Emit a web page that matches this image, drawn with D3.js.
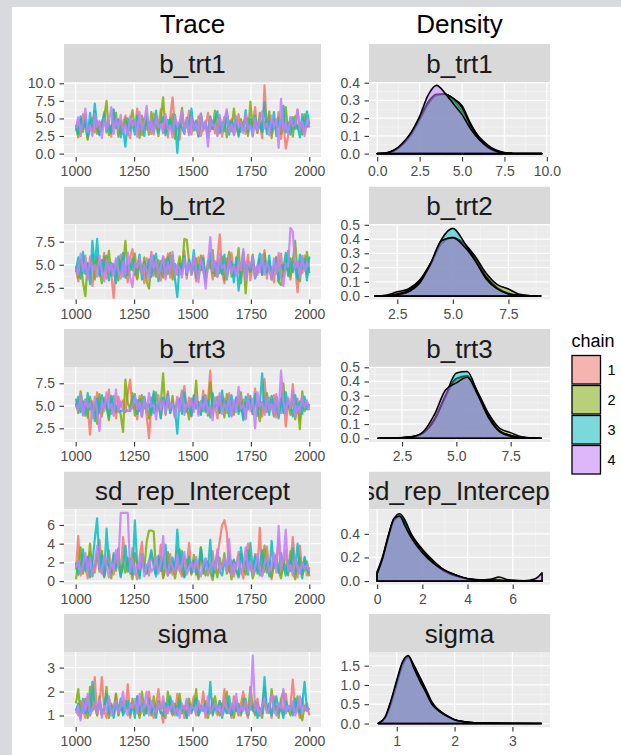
<!DOCTYPE html>
<html><head><meta charset="utf-8">
<script src="https://cdn.jsdelivr.net/npm/d3@7"></script>
<style>html,body{margin:0;padding:0;background:#fff;}svg{display:block;}</style>
</head><body><svg id="c" width="621" height="755"></svg>
<script>
// ---------------- DATA ----------------
const params = ["b_trt1", "b_trt2", "b_trt3", "sd_rep_Intercept", "sigma"];
const chains = ["1", "2", "3", "4"];
const chainColors = ["#F8766D", "#7CAE00", "#00BFC4", "#C77CFF"];
const iterFirst = 1001, iterLast = 2000;

const traceXTicks = [1000, 1250, 1500, 1750, 2000];
const traceXTickLabels = ["1000", "1250", "1500", "1750", "2000"];
const traceYTicks = [[0, 2.5, 5, 7.5, 10], [2.5, 5, 7.5], [2.5, 5, 7.5], [0, 2, 4, 6], [1, 2, 3]];
const traceYTickLabels = [["0.0", "2.5", "5.0", "7.5", "10.0"], ["2.5", "5.0", "7.5"], ["2.5", "5.0", "7.5"], ["0", "2", "4", "6"], ["1", "2", "3"]];
const densXTicks = [[0, 2.5, 5, 7.5, 10], [2.5, 5, 7.5], [2.5, 5, 7.5], [0, 2, 4, 6], [1, 2, 3]];
const densXTickLabels = [["0.0", "2.5", "5.0", "7.5", "10.0"], ["2.5", "5.0", "7.5"], ["2.5", "5.0", "7.5"], ["0", "2", "4", "6"], ["1", "2", "3"]];
const densYTicks = [[0, 0.1, 0.2, 0.3, 0.4], [0, 0.1, 0.2, 0.3, 0.4, 0.5], [0, 0.1, 0.2, 0.3, 0.4, 0.5], [0, 0.2, 0.4], [0, 0.5, 1, 1.5]];
const densYTickLabels = [["0.0", "0.1", "0.2", "0.3", "0.4"], ["0.0", "0.1", "0.2", "0.3", "0.4", "0.5"], ["0.0", "0.1", "0.2", "0.3", "0.4", "0.5"], ["0.0", "0.2", "0.4"], ["0.0", "0.5", "1.0", "1.5"]];

// value ranges of each parameter (shared by trace y and density x), and density y ranges
const valueDomains = [[-0.485, 10.185], [1.23, 9.37], [0.98, 9.31], [-0.36, 7.65], [0.52, 3.65]];
const densDomains = [[-0.019, 0.404], [-0.024, 0.502], [-0.026, 0.502], [-0.029, 0.606], [-0.09, 1.854]];

// trace draws (every ~10th iteration), one array per chain
const trace_b_trt1 = [
[3.2,4.8,2.5,5.6,3.9,2.1,4.4,5.1,3.0,4.6,2.7,3.8,5.9,3.3,4.1,2.4,6.2,3.6,4.9,2.9,4.3,5.4,3.1,2.2,4.7,3.5,6.4,3.9,2.6,5.0,3.4,4.5,2.8,5.7,3.7,4.2,6.3,3.0,4.8,2.3,5.2,8.0,3.6,4.4,2.0,5.5,3.8,4.0,6.1,2.7,4.6,3.3,5.3,2.5,4.1,3.9,5.8,3.2,4.7,2.9,3.6,5.1,2.4,4.3,6.0,3.4,4.9,2.6,3.7,5.6,3.1,4.5,2.8,5.0,3.9,4.2,6.6,3.0,4.4,2.2,9.7,3.5,5.4,2.7,4.0,3.3,5.9,2.1,4.6,0.7,2.5,5.2,3.6,4.1,6.3,3.2,4.8,2.9,4.3,3.7],
[3.8,2.3,4.9,3.1,5.5,2.0,4.2,3.6,6.0,2.8,4.5,3.3,5.2,7.5,2.6,4.0,3.7,5.8,2.4,4.6,3.2,5.0,2.9,4.4,6.2,3.5,4.1,2.2,5.4,3.9,4.7,2.7,5.9,3.4,4.3,2.5,5.1,8.0,3.0,4.8,3.6,5.6,2.1,4.2,3.8,6.5,3.1,4.5,2.8,5.3,3.7,4.0,2.4,5.7,3.3,4.6,2.9,5.0,3.5,6.1,2.6,4.4,3.9,5.2,2.3,4.7,3.2,6.4,3.8,2.7,4.9,3.4,5.5,2.5,7.4,3.6,4.1,2.9,5.8,3.0,4.5,3.3,6.0,2.2,4.8,3.7,5.1,2.8,4.2,6.6,3.1,4.6,2.4,5.3,3.5,4.0,2.7,5.6,3.8,4.3],
[4.1,2.8,5.3,3.5,4.7,2.4,5.8,3.2,7.1,3.9,2.6,4.4,5.6,3.0,4.2,2.9,6.3,3.7,4.8,2.3,3.6,1.0,5.0,3.3,4.5,2.7,5.4,3.8,4.0,2.5,5.7,3.4,4.6,2.9,6.1,3.1,4.3,5.2,2.6,3.9,4.9,3.0,5.5,0.1,4.4,3.6,2.8,5.1,4.0,6.4,3.3,4.7,2.5,5.6,3.7,4.1,2.2,5.3,3.5,4.8,6.0,2.9,4.3,3.2,5.7,2.7,4.6,3.8,5.0,2.4,4.2,3.4,6.2,3.0,4.9,2.6,5.4,3.6,4.1,3.1,7.3,2.8,4.5,3.3,5.9,2.5,4.7,3.9,6.8,3.0,4.4,2.7,5.2,3.5,4.0,2.3,5.6,3.7,6.0,4.2],
[3.6,5.2,2.9,4.5,6.4,3.1,4.0,2.5,5.7,3.8,4.6,2.2,5.0,3.4,4.3,6.6,2.8,4.9,3.5,5.5,3.0,4.1,2.6,5.3,3.9,4.7,2.4,5.9,3.3,4.4,6.8,3.2,4.8,2.7,5.1,3.7,4.2,2.9,5.6,3.5,4.0,2.3,5.4,3.8,4.5,6.1,3.0,4.9,2.6,5.2,3.6,4.3,2.8,5.7,3.3,4.6,1.0,5.0,3.9,4.1,2.5,5.5,3.4,4.8,6.3,3.1,4.2,2.7,5.3,3.7,4.4,2.9,5.8,3.5,4.0,2.4,5.1,3.2,4.7,6.0,3.6,4.3,2.6,5.4,3.8,4.9,0.8,7.8,3.4,4.5,2.8,5.2,3.9,4.1,6.2,3.3,4.6,2.5,5.0,3.7]
];
const trace_b_trt2 = [
[4.5,3.2,5.6,4.1,6.0,3.6,5.1,2.7,4.8,5.9,3.9,4.4,6.3,3.5,5.2,4.0,1.4,5.5,4.2,6.1,3.7,4.9,3.1,5.8,6.7,4.3,3.4,5.3,4.6,3.0,5.7,4.1,6.4,3.8,5.0,4.5,3.3,5.9,4.2,6.2,3.6,5.4,4.7,3.9,5.1,4.0,6.5,3.5,5.6,4.3,5.0,3.2,5.8,4.4,6.0,3.7,4.9,5.3,3.4,4.6,5.5,8.3,4.1,3.0,5.7,4.8,6.3,3.8,5.2,4.4,3.6,5.9,4.2,6.1,3.3,5.0,4.7,3.9,5.6,4.0,6.6,3.5,5.4,4.3,3.1,5.8,4.6,6.2,3.7,5.1,4.4,3.4,5.7,4.9,2.0,5.3,4.1,6.0,3.8,4.7],
[4.9,3.6,5.5,3.1,1.6,5.2,4.0,6.1,3.4,5.7,4.3,3.0,5.9,4.6,6.5,3.8,5.1,4.2,3.3,5.4,4.7,7.6,3.9,5.0,4.4,6.2,3.5,5.3,4.1,5.8,3.2,2.4,4.8,6.0,3.7,5.5,4.3,3.6,5.6,4.0,6.3,3.4,5.1,4.5,5.9,4.2,7.8,7.7,5.3,3.9,4.8,5.7,3.5,6.0,4.4,3.1,5.4,4.6,6.6,3.8,5.2,4.1,5.9,3.3,4.9,6.4,3.7,5.0,4.5,6.8,3.0,5.6,1.9,5.3,4.2,6.1,3.6,4.7,5.5,3.9,6.2,4.3,5.1,3.4,4.8,5.8,3.1,2.8,5.0,4.4,6.5,3.7,5.4,7.6,4.0,3.2,5.7,4.6,6.4,4.1],
[4.2,5.8,3.5,6.4,4.0,5.1,2.9,7.6,4.7,7.8,3.8,5.5,4.3,6.0,3.3,5.2,4.6,3.0,5.9,4.1,6.3,3.6,5.0,4.4,5.7,3.9,4.8,6.1,3.4,5.3,4.0,5.6,3.7,4.9,6.2,3.2,5.4,4.5,3.8,5.8,4.3,6.0,3.5,1.5,5.1,4.7,5.9,3.9,5.5,4.2,6.6,3.6,5.0,4.4,5.7,3.3,4.8,6.3,4.1,5.2,3.7,5.6,4.0,6.1,3.4,4.9,5.3,3.1,5.8,2.2,4.6,6.4,3.8,5.1,4.3,5.9,3.5,4.7,6.2,3.9,5.4,4.1,6.0,3.6,4.8,5.5,3.2,5.0,4.5,6.3,3.8,5.7,4.2,5.2,3.4,6.1,4.6,5.6,3.3,5.9],
[4.6,3.9,6.2,4.3,5.3,3.4,5.9,4.1,5.0,3.7,6.0,4.5,3.2,5.6,4.2,5.1,3.8,5.7,4.4,3.5,5.4,4.0,6.3,3.6,2.6,5.2,4.7,5.8,3.9,5.0,4.3,3.3,6.1,4.6,5.5,3.7,4.9,5.9,3.4,5.3,4.1,6.4,3.8,5.0,4.5,3.6,5.7,4.2,5.2,3.9,6.0,4.4,3.1,5.6,4.8,2.4,5.1,8.0,4.3,5.4,3.7,6.2,4.6,5.0,3.5,5.8,4.1,4.9,3.8,5.5,4.4,6.7,3.3,5.2,4.7,5.9,3.6,5.0,4.2,6.1,3.9,5.3,4.5,3.4,5.7,4.0,6.3,3.7,2.7,5.1,4.8,9.0,8.6,4.6,5.4,3.6,6.0,4.3,5.2,4.9]
];
const trace_b_trt3 = [
[5.3,4.4,6.2,3.9,5.7,4.8,1.8,5.5,4.2,6.5,5.0,3.8,5.9,4.6,6.8,4.1,5.4,3.6,6.0,4.9,5.6,4.3,6.4,7.9,4.7,5.2,3.5,6.1,4.5,5.8,4.0,1.4,5.3,6.3,4.4,5.0,3.7,5.7,4.8,6.6,4.2,5.5,3.9,6.0,4.6,5.1,7.2,4.3,5.9,3.8,6.2,4.9,5.4,4.1,6.7,4.5,5.6,8.9,4.0,5.2,3.6,6.1,4.7,5.8,4.2,6.4,3.9,5.3,4.8,6.0,4.4,5.7,3.5,6.3,5.0,4.1,6.9,4.6,5.5,3.8,8.0,4.3,5.9,4.9,6.2,3.7,5.4,4.2,6.6,2.7,5.1,4.5,7.4,4.0,5.8,3.4,6.1,4.7,5.3,4.9],
[5.8,4.2,6.6,4.9,5.4,3.7,6.0,4.5,5.2,3.0,6.3,4.1,5.7,4.8,3.4,5.5,6.1,4.3,5.0,4.0,2.1,7.9,5.3,4.6,6.4,3.9,5.6,4.4,6.2,4.7,5.1,3.6,5.9,4.2,6.5,4.8,5.3,8.6,4.0,5.7,4.5,6.1,3.8,5.4,4.9,6.7,4.3,5.0,3.5,5.8,4.6,7.8,4.1,5.5,4.4,6.2,3.9,7.6,4.7,5.2,6.0,4.2,5.6,3.7,6.3,4.8,5.1,4.0,5.9,4.4,6.5,3.6,5.3,4.6,6.1,4.1,5.7,4.9,3.3,5.4,4.3,6.4,4.7,5.0,3.8,6.0,4.5,5.5,7.5,4.2,5.8,4.0,6.2,3.5,5.1,2.4,6.6,4.4,5.3,4.8],
[4.8,6.0,4.3,5.5,3.9,6.4,4.6,5.1,3.3,5.8,4.2,6.2,4.9,5.4,3.7,6.1,4.5,5.0,4.4,4.4,4.5,4.4,4.5,4.4,5.6,6.3,4.1,5.7,3.8,6.0,4.7,5.2,4.0,6.6,4.4,5.5,3.6,5.9,4.8,6.3,4.2,5.3,4.6,1.9,5.8,4.1,6.5,4.5,5.0,3.9,6.1,4.7,5.4,4.0,6.0,4.3,5.6,3.7,6.4,4.9,5.2,4.2,6.7,4.6,5.5,3.8,6.2,4.4,5.9,4.1,5.3,3.4,6.0,4.8,5.7,4.3,6.3,3.9,5.1,8.6,4.5,5.6,4.0,6.1,4.7,5.4,3.6,5.8,4.2,6.5,4.9,5.0,3.8,6.2,4.4,5.5,4.1,6.0,4.6,5.2],
[5.1,4.5,6.3,4.0,5.7,4.8,5.3,3.6,6.0,4.2,2.2,5.6,4.4,6.5,4.7,5.2,3.9,6.8,4.3,5.5,4.4,4.5,4.4,4.5,5.0,6.1,4.6,5.4,3.8,5.9,4.2,6.4,4.9,5.1,3.5,6.2,4.5,5.6,4.1,6.0,4.7,5.3,3.7,5.8,4.4,6.6,4.0,5.2,4.8,5.7,4.3,6.3,3.9,5.5,4.6,6.1,4.2,5.0,3.4,5.9,4.8,6.4,4.1,5.3,4.5,6.0,3.8,5.6,4.3,7.1,4.7,5.1,3.6,6.2,4.4,5.8,2.5,6.5,4.9,5.4,4.0,6.0,4.6,5.2,3.9,6.3,4.2,8.9,5.5,4.1,5.9,4.7,6.7,3.7,5.0,4.3,6.1,4.8,5.6,4.5]
];
const trace_sd_rep_Intercept = [
[1.2,4.8,0.6,2.3,1.5,0.3,3.1,1.8,0.9,2.6,4.4,1.1,0.5,2.0,3.3,1.4,0.7,2.8,1.9,0.4,4.7,1.6,2.2,0.8,3.5,1.3,0.2,2.5,4.2,1.0,1.7,0.6,3.0,2.1,0.9,1.5,3.9,0.3,2.4,1.2,2.9,0.7,1.8,3.4,1.1,0.5,2.6,1.4,4.1,0.8,1.9,2.3,0.4,3.6,1.3,2.0,0.6,1.6,3.2,0.9,2.7,4.3,6.0,6.5,5.2,1.0,2.2,0.5,1.7,3.1,1.2,0.3,2.5,4.0,1.5,0.8,2.9,1.1,5.7,0.6,2.1,3.7,1.4,0.2,2.6,1.8,4.6,0.7,1.3,3.3,0.9,2.0,4.7,1.6,0.4,3.8,1.1,2.4,0.6,1.5],
[0.2,1.9,3.6,0.8,2.4,1.3,4.0,0.5,1.7,2.9,1.0,3.2,0.4,2.1,1.5,0.3,2.7,1.1,3.5,0.7,1.8,0.9,2.5,1.4,0.2,3.0,1.6,0.6,2.2,1.2,4.2,5.4,5.4,5.3,0.8,1.9,2.6,0.4,1.3,3.1,0.9,2.0,0.3,1.6,3.4,1.0,0.5,2.3,1.7,0.7,2.8,1.2,0.2,3.6,1.5,0.6,2.1,1.0,0.1,1.8,0.4,2.5,1.3,3.0,0.8,1.6,0.2,2.2,1.1,0.5,2.9,1.4,0.7,3.3,1.9,0.3,1.2,2.6,0.6,1.5,3.8,0.9,2.0,0.4,1.7,2.8,1.1,0.3,2.3,1.4,0.6,3.2,1.0,0.2,1.8,2.5,0.7,1.3,2.1,0.5],
[2.0,0.7,1.5,3.4,1.1,2.6,0.4,1.9,4.5,6.7,1.3,2.8,0.6,5.6,1.7,0.9,3.0,1.4,2.2,0.5,1.8,3.8,1.0,2.4,0.7,6.5,1.6,0.3,2.9,1.2,0.8,2.1,3.3,1.5,0.5,2.7,1.1,1.9,3.9,0.6,1.4,2.5,0.9,5.5,1.8,3.2,0.4,1.3,2.6,1.0,2.2,0.7,1.6,3.5,0.8,2.4,1.2,4.4,0.5,1.9,2.9,1.1,0.6,2.0,1.5,3.1,0.9,2.3,1.3,0.4,3.6,1.7,2.1,0.7,4.1,1.2,2.7,0.8,1.6,3.3,1.0,2.4,0.5,4.3,1.4,2.0,0.9,3.0,1.7,0.6,2.2,1.1,3.5,0.8,4.0,1.5,0.3,2.6,1.2,0.9],
[1.4,2.2,0.9,1.7,3.0,1.1,2.5,0.6,1.9,3.8,1.3,0.8,2.7,1.5,0.4,2.0,1.2,3.3,1.6,7.3,7.3,7.3,7.3,1.0,2.4,0.7,1.8,1.3,2.9,0.5,1.6,2.2,1.0,1.4,2.6,0.8,1.9,4.8,1.2,0.6,2.3,1.5,0.9,2.8,1.1,1.7,3.1,0.7,1.4,2.0,1.0,2.6,1.3,0.5,1.8,2.4,0.8,1.5,2.1,1.2,3.4,0.9,1.6,2.5,1.1,4.5,0.6,1.9,1.3,2.7,0.8,1.5,3.6,1.0,2.2,0.7,1.4,2.9,1.2,0.5,1.8,2.6,1.0,1.6,3.0,0.9,5.9,1.3,2.3,5.5,1.1,1.7,0.6,2.4,1.4,0.8,2.0,1.3,1.7,1.0]
];
const trace_sigma = [
[1.3,1.0,1.6,1.2,0.9,1.8,1.1,1.4,2.6,1.0,1.5,2.6,1.2,0.9,1.7,1.3,1.1,1.9,1.0,1.4,1.6,1.2,2.3,0.9,1.5,1.3,1.8,1.0,1.2,1.6,1.1,2.0,1.3,0.9,1.4,2.1,1.2,0.7,1.5,1.1,1.7,1.3,1.0,1.9,1.2,1.4,0.9,1.6,1.1,1.3,1.8,1.0,1.5,1.2,2.0,0.9,1.4,1.1,1.7,1.3,1.0,1.6,1.2,2.1,1.1,1.4,0.9,1.8,1.3,1.0,1.5,2.0,1.2,0.9,1.6,1.3,1.1,1.7,1.0,1.4,2.2,1.2,1.5,0.9,1.8,1.1,1.3,1.6,1.0,1.9,1.2,1.4,2.5,1.1,1.3,0.9,1.7,1.2,1.5,1.0],
[1.5,2.1,1.0,1.3,1.7,0.9,2.2,1.2,1.4,1.0,1.8,1.1,1.3,2.2,0.9,1.5,1.2,1.9,1.0,1.4,1.1,1.6,1.3,1.0,1.7,1.2,1.4,0.9,2.0,1.3,1.1,1.5,1.0,1.8,1.2,1.4,1.1,1.6,0.9,2.0,1.3,1.0,1.5,1.2,1.9,1.1,1.4,0.9,1.7,1.2,1.3,2.1,1.0,1.4,1.2,1.6,0.9,1.3,1.1,1.8,1.2,1.0,1.5,1.3,2.0,1.1,1.4,0.9,1.6,1.2,1.0,1.7,1.3,1.1,2.2,1.4,1.0,1.5,1.2,0.9,1.6,1.3,1.1,2.1,1.2,1.4,0.9,1.7,2.0,1.1,1.3,1.0,1.5,1.2,1.8,1.1,0.8,1.4,1.2,1.3],
[1.2,1.5,0.9,1.7,1.1,1.3,1.0,2.4,1.4,1.2,1.6,1.0,1.3,1.9,1.1,1.4,0.9,1.5,1.2,1.7,1.0,1.3,1.6,1.1,1.4,0.9,1.8,1.2,1.5,1.0,1.3,1.7,1.1,1.4,0.9,1.6,1.2,1.0,1.5,1.3,1.8,1.1,1.4,1.0,1.6,1.2,1.3,0.9,1.5,1.1,1.4,1.7,1.0,1.3,1.2,1.5,1.1,2.4,1.0,1.4,1.2,1.6,0.9,1.3,1.1,1.8,1.0,1.4,1.2,1.5,1.1,1.3,1.7,1.0,1.4,1.2,1.6,0.9,1.3,1.1,2.6,1.2,1.5,1.0,1.4,1.8,1.1,1.3,0.9,1.6,1.2,1.4,1.0,1.7,1.3,1.1,1.5,2.4,1.2,1.3],
[1.1,1.4,0.8,1.6,1.2,1.9,1.0,1.3,1.5,1.1,1.7,0.9,1.4,1.2,1.8,1.0,1.3,1.6,1.1,1.4,2.0,1.2,1.0,1.5,1.3,1.7,1.1,1.9,1.2,1.4,2.0,1.0,1.6,1.3,1.1,1.5,1.2,1.8,1.0,1.4,1.2,1.6,1.1,1.3,0.9,1.5,1.2,1.7,1.0,1.4,1.3,1.1,1.6,1.2,1.4,1.0,1.8,1.1,1.3,1.5,1.2,1.4,1.0,1.7,1.3,1.1,1.5,1.2,1.9,1.0,1.4,1.2,1.6,1.1,1.3,3.5,1.2,1.5,1.0,1.4,1.7,1.1,1.3,1.9,1.2,1.0,1.5,1.3,2.1,1.1,1.4,1.2,1.6,1.0,1.3,1.8,1.1,1.4,1.2,1.3]
];
const traces = [trace_b_trt1, trace_b_trt2, trace_b_trt3, trace_sd_rep_Intercept, trace_sigma];

// density estimates: evaluation grid + one curve per chain
const dens_b_trt1_x = [0, 0.5, 1, 1.5, 2, 2.5, 3, 3.5, 4, 4.5, 5, 5.5, 6, 6.5, 7, 7.5, 8, 8.5, 9, 9.5, 9.7];
const dens_b_trt1 = [
[0, 0.003, 0.02, 0.05, 0.1, 0.19, 0.29, 0.33, 0.335, 0.3, 0.24, 0.16, 0.095, 0.05, 0.02, 0.006, 0.001, 0, 0, 0, 0],
[0, 0.002, 0.016, 0.05, 0.11, 0.19, 0.28, 0.33, 0.335, 0.31, 0.27, 0.17, 0.09, 0.04, 0.015, 0.004, 0.001, 0, 0, 0, 0],
[0, 0.002, 0.018, 0.055, 0.115, 0.2, 0.29, 0.335, 0.335, 0.31, 0.26, 0.16, 0.085, 0.035, 0.012, 0.003, 0.001, 0, 0, 0, 0],
[0, 0.003, 0.02, 0.06, 0.12, 0.21, 0.33, 0.385, 0.34, 0.28, 0.22, 0.14, 0.08, 0.04, 0.015, 0.004, 0.001, 0, 0, 0, 0]
];
const dens_b_trt2_x = [1.5, 2, 2.5, 3, 3.5, 4, 4.5, 5, 5.5, 6, 6.5, 7, 7.5, 8, 8.5, 8.95];
const dens_b_trt2 = [
[0, 0.006, 0.03, 0.05, 0.11, 0.23, 0.37, 0.41, 0.36, 0.27, 0.14, 0.06, 0.02, 0.005, 0.001, 0],
[0, 0.003, 0.015, 0.04, 0.1, 0.22, 0.37, 0.41, 0.37, 0.28, 0.16, 0.08, 0.05, 0.012, 0.002, 0],
[0, 0.002, 0.01, 0.03, 0.09, 0.22, 0.4, 0.475, 0.38, 0.25, 0.13, 0.05, 0.015, 0.004, 0.001, 0],
[0, 0.002, 0.01, 0.03, 0.09, 0.23, 0.39, 0.41, 0.35, 0.25, 0.12, 0.05, 0.015, 0.004, 0.001, 0]
];
const dens_b_trt3_x = [1.4, 2, 2.5, 3, 3.5, 4, 4.5, 5, 5.5, 6, 6.5, 7, 7.5, 8, 8.5, 8.9];
const dens_b_trt3 = [
[0, 0.002, 0.005, 0.012, 0.04, 0.14, 0.3, 0.42, 0.43, 0.31, 0.15, 0.05, 0.02, 0.005, 0.001, 0],
[0, 0.001, 0.004, 0.01, 0.04, 0.13, 0.29, 0.42, 0.44, 0.32, 0.17, 0.07, 0.04, 0.01, 0.002, 0],
[0, 0.001, 0.004, 0.01, 0.04, 0.13, 0.3, 0.46, 0.47, 0.31, 0.15, 0.05, 0.02, 0.005, 0.001, 0],
[0, 0.001, 0.004, 0.012, 0.05, 0.17, 0.34, 0.39, 0.43, 0.3, 0.14, 0.045, 0.015, 0.004, 0.001, 0]
];
const dens_sd_rep_Intercept_x = [0, 0.25, 0.5, 0.75, 1, 1.25, 1.5, 2, 2.5, 3, 3.5, 4, 4.5, 5, 5.4, 5.8, 6.5, 7, 7.3];
const dens_sd_rep_Intercept = [
[0.07, 0.2, 0.38, 0.52, 0.54, 0.47, 0.38, 0.25, 0.16, 0.09, 0.05, 0.02, 0.01, 0.01, 0.01, 0.005, 0.003, 0.002, 0],
[0.06, 0.19, 0.37, 0.51, 0.55, 0.49, 0.4, 0.27, 0.17, 0.09, 0.05, 0.02, 0.01, 0.015, 0.035, 0.01, 0.003, 0.002, 0],
[0.08, 0.21, 0.39, 0.53, 0.57, 0.51, 0.4, 0.26, 0.15, 0.08, 0.04, 0.02, 0.01, 0.01, 0.005, 0.003, 0.002, 0.001, 0],
[0.06, 0.2, 0.38, 0.53, 0.55, 0.46, 0.37, 0.24, 0.15, 0.09, 0.05, 0.02, 0.01, 0.005, 0.003, 0.002, 0.002, 0.02, 0.07]
];
const dens_sigma_x = [0.68, 0.8, 0.9, 1.0, 1.1, 1.2, 1.3, 1.4, 1.5, 1.6, 1.7, 1.8, 1.9, 2.0, 2.2, 2.5, 3.0, 3.5];
const dens_sigma = [
[0, 0.15, 0.55, 1.05, 1.55, 1.7, 1.45, 1.15, 0.85, 0.55, 0.38, 0.27, 0.18, 0.1, 0.04, 0.01, 0.003, 0],
[0, 0.14, 0.5, 1.0, 1.5, 1.72, 1.5, 1.2, 0.9, 0.58, 0.38, 0.26, 0.17, 0.1, 0.04, 0.01, 0.002, 0],
[0, 0.16, 0.56, 1.08, 1.58, 1.74, 1.48, 1.18, 0.88, 0.55, 0.37, 0.25, 0.16, 0.09, 0.035, 0.01, 0.002, 0],
[0, 0.17, 0.6, 1.12, 1.6, 1.76, 1.42, 1.1, 0.82, 0.52, 0.36, 0.25, 0.17, 0.1, 0.04, 0.012, 0.004, 0.002]
];
const densX = [dens_b_trt1_x, dens_b_trt2_x, dens_b_trt3_x, dens_sd_rep_Intercept_x, dens_sigma_x];
const densY = [dens_b_trt1, dens_b_trt2, dens_b_trt3, dens_sd_rep_Intercept, dens_sigma];

// ---------------- DRAWING ----------------
const FONT = "'Liberation Sans', Arial, Helvetica, sans-serif";
const TICK_FS = 14;
const svg = d3.select("#c").attr("font-family", FONT);
svg.append("rect").attr("width", 621).attr("height", 755).attr("fill", "#d9dadd");
svg.append("rect").attr("x", 12).attr("y", 7).attr("width", 609).attr("height", 748).attr("fill", "#ffffff");
const defs = svg.append("defs");

const TX0 = 64, TX1 = 321, DX0 = 369, DX1 = 550;
const STRIP_H = 38, PANEL_H = 75, ROW0 = 44, ROW_STEP = 142.5;

svg.append("text").attr("x", (TX0 + TX1) / 2).attr("y", 33).attr("text-anchor", "middle")
  .attr("font-size", 26).attr("fill", "#000").text("Trace");
svg.append("text").attr("x", (DX0 + DX1) / 2).attr("y", 33).attr("text-anchor", "middle")
  .attr("font-size", 26).attr("fill", "#000").text("Density");

function minorBreaks(ticks, domain) {
  const step = ticks[1] - ticks[0], out = [];
  for (let k = -1; k < ticks.length; k++) {
    const v = ticks[0] + (k + 0.5) * step;
    if (v >= domain[0] && v <= domain[1]) out.push(v);
  }
  return out;
}

function drawStrip(x0, x1, top, label, id) {
  defs.append("clipPath").attr("id", id).append("rect")
    .attr("x", x0).attr("y", top).attr("width", x1 - x0).attr("height", STRIP_H);
  const g = svg.append("g").attr("clip-path", `url(#${id})`);
  g.append("rect").attr("x", x0).attr("y", top).attr("width", x1 - x0).attr("height", STRIP_H).attr("fill", "#d9d9d9");
  g.append("text").attr("x", (x0 + x1) / 2).attr("y", top + STRIP_H / 2).attr("dy", "0.37em")
    .attr("text-anchor", "middle").attr("font-size", 26).attr("fill", "#1a1a1a").text(label);
}

function drawPanel(x, y, xt, yt, xl, yl, top, bot, id) {
  const [x0, x1] = x.range();
  svg.append("rect").attr("x", x0).attr("y", top).attr("width", x1 - x0).attr("height", bot - top).attr("fill", "#ebebeb");
  const grid = svg.append("g");
  minorBreaks(yt, y.domain()).forEach(v => grid.append("line").attr("x1", x0).attr("x2", x1)
    .attr("y1", y(v)).attr("y2", y(v)).attr("stroke", "#f5f5f5").attr("stroke-width", 0.7));
  minorBreaks(xt, x.domain()).forEach(v => grid.append("line").attr("y1", top).attr("y2", bot)
    .attr("x1", x(v)).attr("x2", x(v)).attr("stroke", "#f5f5f5").attr("stroke-width", 0.7));
  yt.forEach(v => grid.append("line").attr("x1", x0).attr("x2", x1)
    .attr("y1", y(v)).attr("y2", y(v)).attr("stroke", "#ffffff").attr("stroke-width", 1.3));
  xt.forEach(v => grid.append("line").attr("y1", top).attr("y2", bot)
    .attr("x1", x(v)).attr("x2", x(v)).attr("stroke", "#ffffff").attr("stroke-width", 1.3));
  defs.append("clipPath").attr("id", id).append("rect")
    .attr("x", x0).attr("y", top).attr("width", x1 - x0).attr("height", bot - top);
  const ax = svg.append("g").attr("transform", `translate(0,${bot})`)
    .call(d3.axisBottom(x).tickValues(xt).tickFormat((d, i) => xl[i]).tickSize(4.5).tickPadding(5));
  const ay = svg.append("g").attr("transform", `translate(${x0},0)`)
    .call(d3.axisLeft(y).tickValues(yt).tickFormat((d, i) => yl[i]).tickSize(4.5).tickPadding(4.5));
  [ax, ay].forEach(a => {
    a.select(".domain").remove();
    a.selectAll(".tick line").attr("stroke", "#333333").attr("stroke-width", 1.1);
    a.selectAll(".tick text").attr("fill", "#4d4d4d").attr("font-size", TICK_FS).attr("font-family", FONT);
  });
  return svg.append("g").attr("clip-path", `url(#${id})`);
}

params.forEach((p, r) => {
  const sTop = ROW0 + r * ROW_STEP, pTop = sTop + STRIP_H, pBot = pTop + PANEL_H;
  drawStrip(TX0, TX1, sTop, p, "ts" + r);
  drawStrip(DX0, DX1, sTop, p, "ds" + r);

  // ---- trace ----
  const tx = d3.scaleLinear().domain([950, 2050]).range([TX0, TX1]);
  const ty = d3.scaleLinear().domain(valueDomains[r]).range([pBot, pTop]);
  const tg = drawPanel(tx, ty, traceXTicks, traceYTicks[r], traceXTickLabels, traceYTickLabels[r], pTop, pBot, "tp" + r);
  traces[r].forEach((vals, c) => {
    const n = vals.length;
    const line = d3.line()
      .x((d, i) => tx(iterFirst + i * (iterLast - iterFirst) / (n - 1)))
      .y(d => ty(d));
    tg.append("path").attr("d", line(vals)).attr("fill", "none")
      .attr("stroke", chainColors[c]).attr("stroke-opacity", 0.85).attr("stroke-width", 2.2)
      .attr("stroke-linejoin", "round");
  });

  // ---- density ----
  const dx = d3.scaleLinear().domain(valueDomains[r]).range([DX0, DX1]);
  const dy = d3.scaleLinear().domain(densDomains[r]).range([pBot, pTop]);
  const dg = drawPanel(dx, dy, densXTicks[r], densYTicks[r], densXTickLabels[r], densYTickLabels[r], pTop, pBot, "dp" + r);
  const xs = densX[r];
  densY[r].forEach((vals, c) => {
    const pts = xs.map((xv, i) => [xv, vals[i]]);
    const area = d3.area().x(d => dx(d[0])).y0(dy(0)).y1(d => dy(d[1])).curve(d3.curveMonotoneX);
    dg.append("path").attr("d", area(pts)).attr("fill", chainColors[c]).attr("fill-opacity", 0.5)
      .attr("stroke", "#000").attr("stroke-width", 1.6).attr("stroke-linejoin", "round");
  });
});

// ---------------- LEGEND ----------------
const lg = svg.append("g");
lg.append("text").attr("x", 571.5).attr("y", 347).attr("font-size", 18).attr("fill", "#000").text("chain");
chains.forEach((ch, i) => {
  const ky = 355.5 + i * 30;
  lg.append("rect").attr("x", 572).attr("y", ky).attr("width", 28.5).attr("height", 28.5).attr("fill", "#f2f2f2");
  lg.append("rect").attr("x", 572).attr("y", ky).attr("width", 28.5).attr("height", 28.5)
    .attr("fill", chainColors[i]).attr("fill-opacity", 0.5).attr("stroke", "#000").attr("stroke-width", 1.3);
  lg.append("text").attr("x", 607.5).attr("y", ky + 14.25).attr("dy", "0.36em")
    .attr("font-size", 14.5).attr("fill", "#000").text(ch);
});
</script>
</body></html>
